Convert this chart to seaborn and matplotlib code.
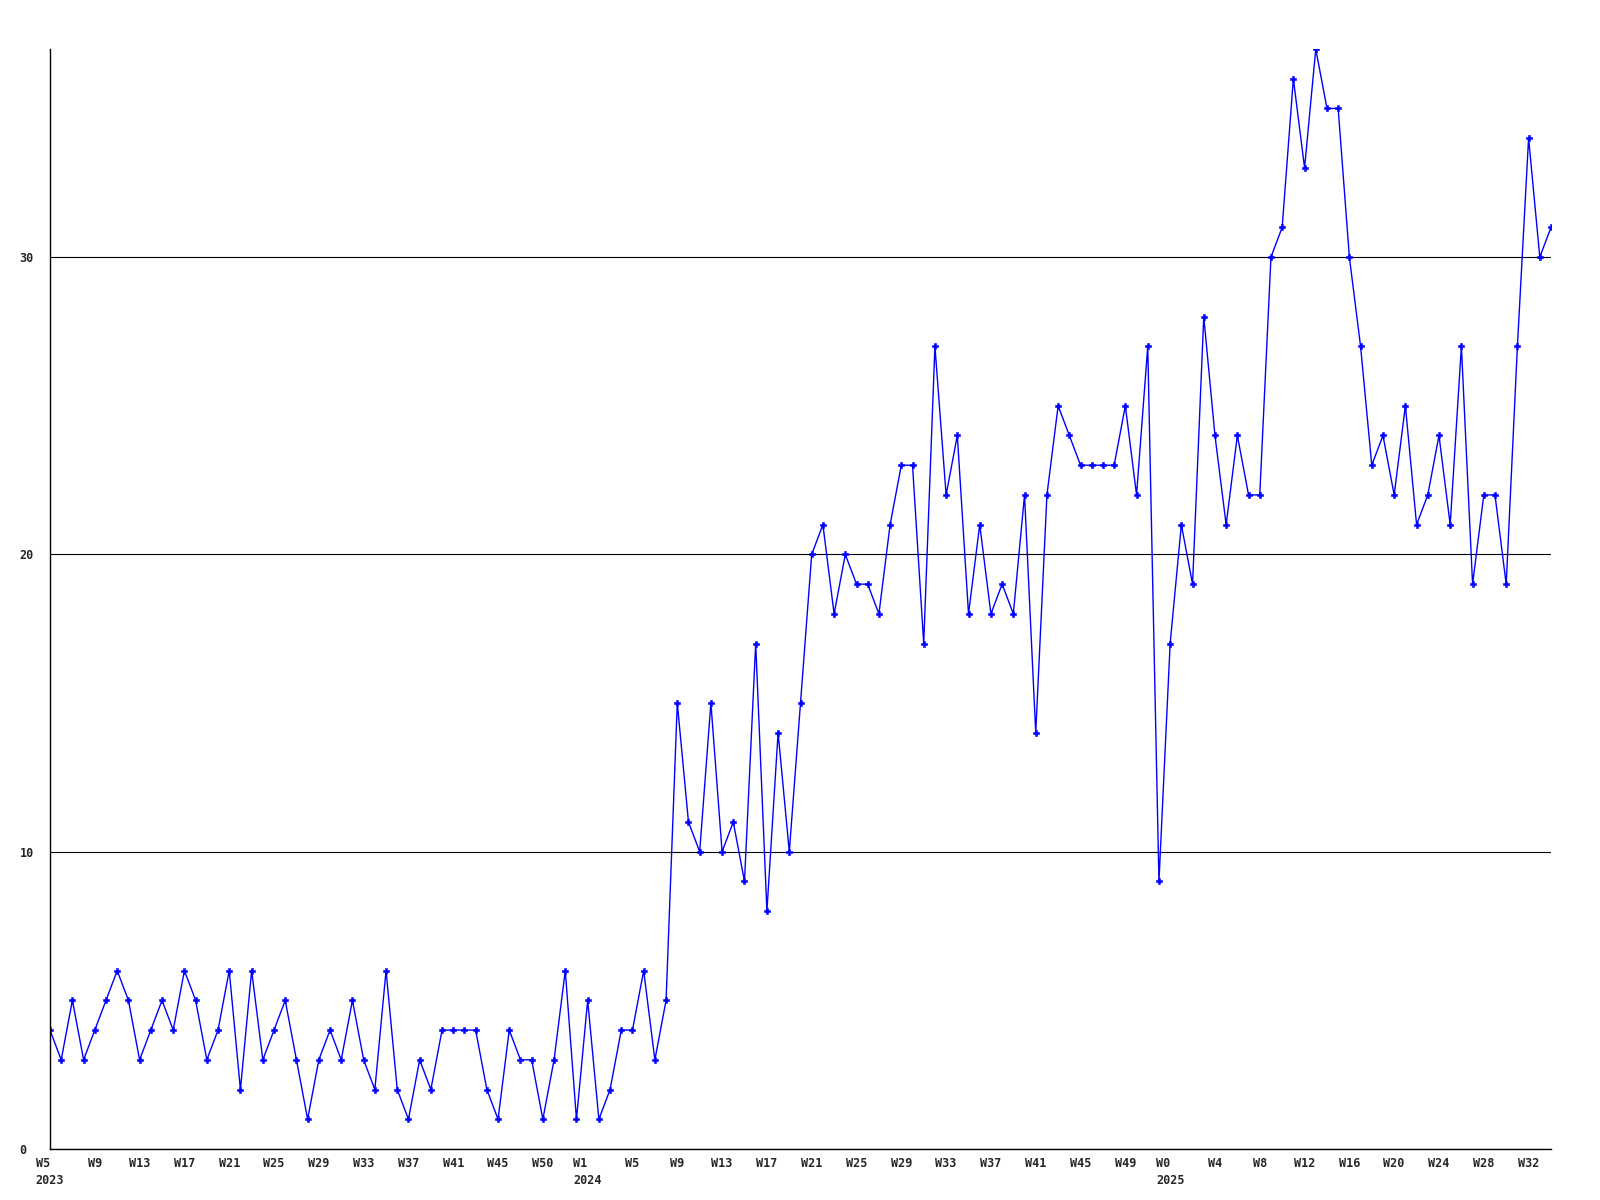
import numpy as np
import pandas as pd
import matplotlib
matplotlib.use("Agg")
import matplotlib.pyplot as plt
import seaborn as sns

# weekly counts, 2023 W5 .. 2025 W34
values = [
    4, 3, 5, 3, 4, 5, 6, 5, 3, 4, 5, 4, 6, 5, 3, 4, 6, 2, 6, 3,
    4, 5, 3, 1, 3, 4, 3, 5, 3, 2, 6, 2, 1, 3, 2, 4, 4, 4, 4, 2,
    1, 4, 3, 3, 1, 3, 6, 1, 5, 1, 2, 4, 4, 6, 3, 5, 15, 11, 10, 15,
    10, 11, 9, 17, 8, 14, 10, 15, 20, 21, 18, 20, 19, 19, 18, 21, 23, 23, 17, 27,
    22, 24, 18, 21, 18, 19, 18, 22, 14, 22, 25, 24, 23, 23, 23, 23, 25, 22, 27, 9,
    17, 21, 19, 28, 24, 21, 24, 22, 22, 30, 31, 36, 33, 37, 35, 35, 30, 27, 23, 24,
    22, 25, 21, 22, 24, 21, 27, 19, 22, 22, 19, 27, 34, 30, 31,
]

# x tick labels, one every 4 weeks
week_labels = [
    "W5", "W9", "W13", "W17", "W21", "W25", "W29", "W33", "W37", "W41", "W45", "W50",
    "W1", "W5", "W9", "W13", "W17", "W21", "W25", "W29", "W33", "W37", "W41", "W45", "W49",
    "W0", "W4", "W8", "W12", "W16", "W20", "W24", "W28", "W32",
]
years = ["2023", "2024", "2025"]

df = pd.DataFrame({"week": np.arange(len(values)), "count": values})

sns.set_style("white")
plt.rcParams["font.family"] = ["DejaVu Sans Mono", "DejaVu Sans"]

fig = plt.figure(figsize=(16, 12), dpi=100)
ax = fig.add_axes([50 / 1600, 51 / 1200, 1501 / 1600, 1100 / 1200])

sns.lineplot(data=df, x="week", y="count", ax=ax, color="#0000ff", linewidth=1,
             marker="P", markersize=5, markeredgewidth=0.4,
             markeredgecolor="#0000ff", markerfacecolor="#0000ff")

# tick labels: year under the first week of each year
tick_pos = np.arange(0, 4 * len(week_labels), 4)
tick_txt = []
yi = 0
prev = None
for lab in week_labels:
    n = int(lab[1:])
    if prev is None or n < prev:
        tick_txt.append(lab + "\n" + years[yi])
        yi += 1
    else:
        tick_txt.append(lab)
    prev = n

ax.set_xticks(tick_pos)
ax.set_xticklabels(tick_txt, fontsize=8.5, fontweight="bold", linespacing=1.35)
for t in ax.get_xticklabels():
    t.set_multialignment("left")

ax.set_yticks([0, 10, 20, 30])
ax.set_yticklabels(["0", "10", "20", "30"], fontsize=8.5, fontweight="bold")
for t in ax.get_yticklabels():
    t.set_horizontalalignment("left")

ax.tick_params(axis="x", length=0, pad=6)
ax.tick_params(axis="y", length=0, pad=22)

ax.set_xlim(0, len(values) - 1)
ax.set_ylim(0, 37)

ax.yaxis.grid(True, color="black", linewidth=0.8)
ax.xaxis.grid(False)
ax.set_axisbelow(True)

for s in ["top", "right"]:
    ax.spines[s].set_visible(False)
for s in ["left", "bottom"]:
    ax.spines[s].set_color("black")
    ax.spines[s].set_linewidth(1.0)

ax.set_xlabel("")
ax.set_ylabel("")

plt.savefig("out.png", dpi=100)
